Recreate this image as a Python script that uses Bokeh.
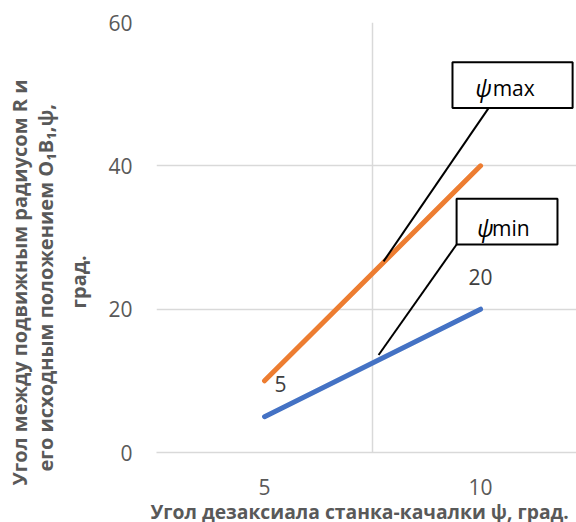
from bokeh.plotting import figure
from bokeh.models import Range1d, FixedTicker, Title
from bokeh.core.properties import value
from bokeh.embed import file_html
from bokeh.resources import INLINE

# ---- data ----
categories = ["5", "10"]
x_pos = [1, 2]
psi_min = [5, 20]
psi_max = [10, 40]
y_ticks = [0, 20, 40, 60]

# data labels shown on the chart
label_texts = ["5", "20"]
label_x = [1, 2]
label_y = [5, 20]

# callouts (data coordinates)
callout_names = ["max", "min"]
box_left = [1.870, 1.889]
box_right = [2.426, 2.356]
box_top = [54.44, 35.42]
box_bottom = [48.06, 29.03]
lead_x0 = [2.037, 1.889]
lead_y0 = [48.06, 29.03]
lead_x1 = [1.551, 1.528]
lead_y1 = [26.67, 13.61]
psi_x = [2.014, 2.022]
word_x = [2.056, 2.053]
text_y = [50.83, 31.39]

# axis titles
x_title = "Угол дезаксиала станка-качалки ψ, град."
y_title_lines = ["Угол между подвижным радиусом R и",
                 "его исходным положением O₁B₁,ψ,",
                 "град."]

FONT = "Open Sans"
GRAY = "#595959"

p = figure(width=576, height=522, output_backend="svg", toolbar_location=None,
           x_range=Range1d(0.5, 2.444), y_range=Range1d(0, 60),
           min_border_left=156, min_border_right=0, min_border_top=22, min_border_bottom=68)
p.outline_line_color = None
p.background_fill_color = "white"
p.border_fill_color = "white"

# axes
p.xaxis.ticker = FixedTicker(ticks=x_pos)
p.xaxis.major_label_overrides = {x: c for x, c in zip(x_pos, categories)}
p.yaxis.ticker = FixedTicker(ticks=y_ticks)
for ax in (p.xaxis[0], p.yaxis[0]):
    ax.major_tick_line_color = None
    ax.minor_tick_line_color = None
    ax.major_label_text_font = FONT
    ax.major_label_text_font_size = "21px"
    ax.major_label_text_color = GRAY
p.yaxis.axis_line_color = None
p.xaxis.axis_line_color = "#d9d9d9"
p.xaxis.axis_line_width = 1.5
p.yaxis.major_label_standoff = 18
p.xaxis.major_label_standoff = 20
# tiny blank axis label used only as a spacer between tick labels and the title
p.yaxis.axis_label = " "
p.yaxis.axis_label_text_font_size = "1px"
p.yaxis.axis_label_standoff = 5

# grids
p.ygrid.ticker = FixedTicker(ticks=y_ticks)
p.ygrid.grid_line_color = "#d9d9d9"
p.ygrid.grid_line_width = 1.5
p.xgrid.ticker = FixedTicker(ticks=[0.5, 1.5, 2.5])
p.xgrid.grid_line_color = "#d9d9d9"
p.xgrid.grid_line_width = 1.5

# series
p.line(x_pos, psi_max, line_color="#ED7D31", line_width=5, line_cap="round")
p.line(x_pos, psi_min, line_color="#4472C4", line_width=5, line_cap="round")

# data labels
p.text(x=label_x, y=label_y, text=label_texts, x_offset=[16, 0], y_offset=[-33, -32],
       text_font=value(FONT), text_font_size="21px", text_color="#404040",
       text_align="center", text_baseline="middle")

# callouts
p.segment(x0=lead_x0, y0=lead_y0, x1=lead_x1, y1=lead_y1, line_color="black", line_width=2)
p.quad(left=box_left, right=box_right, top=box_top, bottom=box_bottom,
       fill_color="white", line_color="black", line_width=2)
p.text(x=psi_x, y=text_y, text=["ψ", "ψ"], text_font=value(FONT), text_font_size="23px",
       text_font_style="italic", text_color="black", text_align="center", text_baseline="middle")
p.text(x=word_x, y=text_y, text=callout_names, text_font=value(FONT), text_font_size="21px",
       text_color="black", text_align="left", text_baseline="middle")

# axis titles as side-panel titles
tstyle = dict(text_font=FONT, text_font_style="bold", text_color=GRAY)
p.add_layout(Title(text=x_title, align="left", offset=-6, standoff=-4,
                   text_font_size="19.3px", **tstyle), "below")
p.add_layout(Title(text=y_title_lines[2], align="left", offset=144, standoff=10,
                   text_font_size="20px", **tstyle), "left")
p.add_layout(Title(text=y_title_lines[1], align="left", offset=-19, standoff=-3,
                   text_font_size="20px", **tstyle), "left")
p.add_layout(Title(text=y_title_lines[0], align="left", offset=-33, standoff=-3,
                   text_font_size="20px", **tstyle), "left")

open("out.html", "w").write(file_html(p, INLINE))
